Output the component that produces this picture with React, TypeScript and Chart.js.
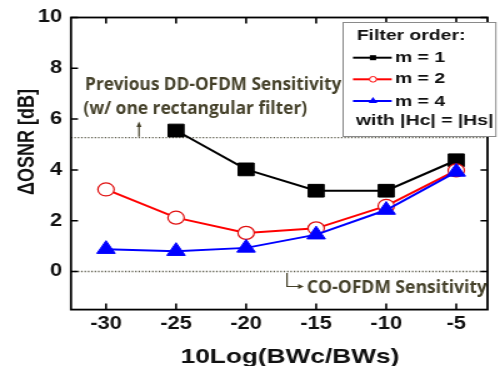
import { useEffect, useRef } from "react";
import { Chart, registerables } from "chart.js";

Chart.register(...registerables);

// ---- data ----
const xCategories = [-30, -25, -20, -15, -10, -5];
const m1Values: (number | null)[] = [null, 5.55, 4.02, 3.18, 3.18, 4.38];
const m2Values: (number | null)[] = [3.23, 2.12, 1.52, 1.7, 2.58, 3.98];
const m4Values: (number | null)[] = [0.88, 0.8, 0.93, 1.45, 2.42, 3.92];
const xTicks = [-30, -25, -20, -15, -10, -5];
const yTicks = [0, 2, 4, 6, 8, 10];
const refLines = [5.27, 0];
const seriesLabels = ["m = 1", "m = 2", "m = 4"];

const toPoints = (vals: (number | null)[]) =>
  xCategories
    .map((x, i) => ({ x, y: vals[i] }))
    .filter((p) => p.y !== null) as { x: number; y: number }[];

const OLIVE = "#45412a";
const TICK_FONT = { family: "'Liberation Sans', Arial, sans-serif", weight: "bold" as const, size: 17.5 };

const decor = {
  id: "decor",
  beforeDatasetsDraw(chart: any) {
    const { ctx, chartArea: a, scales } = chart;
    const y = scales.y;
    ctx.save();
    ctx.strokeStyle = "#5b5a4a";
    ctx.lineWidth = 1.3;
    ctx.setLineDash([1.2, 1.5]);
    refLines.forEach((v) => {
      const py = y.getPixelForValue(v);
      ctx.beginPath();
      ctx.moveTo(a.left, py);
      ctx.lineTo(a.right, py);
      ctx.stroke();
    });
    ctx.restore();
  },
  afterDatasetsDraw(chart: any) {
    const { ctx, chartArea: a, scales } = chart;
    const x = scales.x;
    const y = scales.y;
    ctx.save();
    // ticks inside on all sides
    ctx.strokeStyle = "#000";
    ctx.lineWidth = 1.6;
    xTicks.forEach((v) => {
      const px = x.getPixelForValue(v);
      ctx.beginPath();
      ctx.moveTo(px, a.bottom);
      ctx.lineTo(px, a.bottom - 6);
      ctx.moveTo(px, a.top);
      ctx.lineTo(px, a.top + 6);
      ctx.stroke();
    });
    ctx.lineWidth = 1.5;
    yTicks.forEach((v) => {
      const py = y.getPixelForValue(v);
      ctx.beginPath();
      ctx.moveTo(a.left, py);
      ctx.lineTo(a.left + 5.6, py);
      ctx.moveTo(a.right, py);
      ctx.lineTo(a.right - 5.6, py);
      ctx.stroke();
    });
    // frame
    ctx.lineWidth = 1.8;
    ctx.strokeRect(a.left, a.top, a.right - a.left, a.bottom - a.top);

    // annotation: previous DD-OFDM
    ctx.fillStyle = OLIVE;
    ctx.strokeStyle = OLIVE;
    ctx.font = "bold 17.5px 'Open Sans', Lato, sans-serif";
    ctx.textAlign = "left";
    ctx.textBaseline = "alphabetic";
    ctx.fillText("Previous DD-OFDM Sensitivity", 68, 90, 205);
    ctx.fillText("(w/ one rectangular filter)", 66.7, 113.5, 179);
    const refY = y.getPixelForValue(refLines[0]);
    ctx.lineWidth = 1.2;
    ctx.beginPath();
    ctx.moveTo(111.2, refY - 1);
    ctx.lineTo(111.2, 125);
    ctx.stroke();
    ctx.beginPath();
    ctx.moveTo(111.2, 121.5);
    ctx.lineTo(109.2, 127);
    ctx.lineTo(113.2, 127);
    ctx.closePath();
    ctx.fill();
    // annotation: CO-OFDM
    ctx.fillText("CO-OFDM Sensitivity", 245.6, 293.3, 144);
    const zy = y.getPixelForValue(refLines[1]);
    ctx.beginPath();
    ctx.moveTo(229.6, zy + 1.5);
    ctx.lineTo(229.6, 286.5);
    ctx.lineTo(239.5, 286.5);
    ctx.stroke();
    ctx.beginPath();
    ctx.moveTo(243, 286.5);
    ctx.lineTo(238.5, 284);
    ctx.lineTo(238.5, 289);
    ctx.closePath();
    ctx.fill();

    // legend box
    const L = 274, T = 22, R = 397.2, B = 137;
    ctx.fillStyle = "#fff";
    ctx.fillRect(L, T, R - L, B - T);
    ctx.strokeStyle = "#8a8a8a";
    ctx.lineWidth = 1;
    ctx.strokeRect(L + 0.5, T + 0.5, R - L - 1, B - T - 1);
    ctx.fillStyle = "#111";
    ctx.font = "bold 15.5px 'Liberation Sans', Arial, sans-serif";
    ctx.fillText("Filter order:", 285.4, 40);
    const rowsY = [57.7, 79.3, 101];
    const baseY = [61.7, 83.3, 105.5];
    const colors = ["#000000", "#ff0000", "#0000ff"];
    rowsY.forEach((ry, i) => {
      ctx.strokeStyle = colors[i];
      ctx.lineWidth = 2;
      ctx.beginPath();
      ctx.moveTo(282.4, ry);
      ctx.lineTo(313.4, ry);
      ctx.stroke();
      const cx = 298.4;
      if (i === 0) {
        ctx.fillStyle = "#000";
        ctx.fillRect(cx - 2.5, ry - 2.5, 5, 5);
      } else if (i === 1) {
        ctx.fillStyle = "#fff";
        ctx.lineWidth = 1;
        ctx.beginPath();
        ctx.arc(cx, ry, 2.8, 0, Math.PI * 2);
        ctx.fill();
        ctx.stroke();
      } else {
        ctx.fillStyle = "#0000ff";
        ctx.beginPath();
        ctx.moveTo(cx, ry - 4);
        ctx.lineTo(cx - 3.5, ry + 2);
        ctx.lineTo(cx + 3.5, ry + 2);
        ctx.closePath();
        ctx.fill();
      }
      ctx.fillStyle = "#111";
      ctx.fillText(seriesLabels[i], 316, baseY[i]);
    });
    ctx.fillText("with |Hc| = |Hs|", 284.8, 125);

    // axis titles
    ctx.fillStyle = "#111";
    ctx.font = "bold 21px 'Liberation Sans', Arial, sans-serif";
    ctx.textAlign = "center";
    ctx.fillText("10Log(BWc/BWs)", 232, 363.3);
    ctx.save();
    ctx.translate(22.5, 142);
    ctx.rotate(-Math.PI / 2);
    ctx.font = "bold 18px 'Liberation Sans', Arial, sans-serif";
    ctx.textBaseline = "middle";
    ctx.fillText("ΔOSNR [dB]", 0, 0);
    ctx.restore();

    ctx.restore();
  },
};

export default function App() {
  const ref = useRef<HTMLCanvasElement | null>(null);
  useEffect(() => {
    if (!ref.current) return;
    const chart = new Chart(ref.current, {
      type: "line",
      data: {
        datasets: [
          {
            label: seriesLabels[0],
            data: toPoints(m1Values),
            borderColor: "#000",
            borderWidth: 2,
            pointStyle: "rect",
            pointRadius: 9,
            pointBackgroundColor: "#000",
            pointBorderColor: "#000",
            pointBorderWidth: 1,
            tension: 0,
            order: 3,
          },
          {
            label: seriesLabels[1],
            data: toPoints(m2Values),
            borderColor: "#ff0000",
            borderWidth: 2,
            pointStyle: "circle",
            pointRadius: 6.5,
            pointBackgroundColor: "#fff",
            pointBorderColor: "#e01010",
            pointBorderWidth: 1.2,
            tension: 0,
            order: 2,
          },
          {
            label: seriesLabels[2],
            data: toPoints(m4Values),
            borderColor: "#0000ff",
            borderWidth: 2,
            pointStyle: "triangle",
            pointRadius: 8.5,
            pointBackgroundColor: "#0000ff",
            pointBorderColor: "#0000ff",
            pointBorderWidth: 1,
            tension: 0,
            order: 1,
          },
        ],
      },
      options: {
        animation: false,
        responsive: false,
        devicePixelRatio: 1,
        layout: { padding: { top: 16.3, right: 2.8, left: 0, bottom: 0 } },
        plugins: { legend: { display: false }, tooltip: { enabled: false } },
        scales: {
          x: {
            type: "linear",
            min: -32.5,
            max: -2.77,
            afterBuildTicks: (s: any) => {
              s.ticks = xTicks.map((v) => ({ value: v }));
            },
            afterFit: (s: any) => {
              s.height = 56.4;
            },
            grid: { display: false, drawTicks: false },
            border: { display: false },
            ticks: { font: TICK_FONT, color: "#111", padding: 4, maxRotation: 0, autoSkip: false },
          },
          y: {
            type: "linear",
            min: -1.5,
            max: 10,
            afterBuildTicks: (s: any) => {
              s.ticks = yTicks.map((v) => ({ value: v }));
            },
            afterFit: (s: any) => {
              s.width = 56.8;
            },
            grid: { display: false, drawTicks: false },
            border: { display: false },
            ticks: { font: TICK_FONT, color: "#111", padding: 7, autoSkip: false },
          },
        },
      },
      plugins: [decor],
    });
    return () => chart.destroy();
  }, []);
  return (
    <div style={{ position: "fixed", left: 0, top: 0, width: 500, height: 366, background: "#fff" }}>
      <canvas ref={ref} width={400} height={366} style={{ width: "500px", height: "366px", display: "block" }} />
    </div>
  );
}
